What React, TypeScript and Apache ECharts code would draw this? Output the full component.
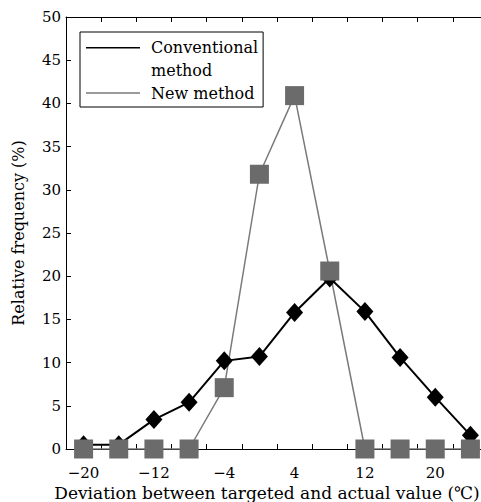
import React, { useEffect, useRef } from "react";
import * as echarts from "echarts";

const xValues = [-20, -16, -12, -8, -4, 0, 4, 8, 12, 16, 20, 24];
const conventional = [0.5, 0.5, 3.4, 5.4, 10.2, 10.7, 15.8, 19.8, 15.9, 10.6, 6.0, 1.6];
const newMethod = [0, 0, 0, 0, 7.1, 31.8, 40.9, 20.6, 0, 0, 0, 0];
const xLabelValues = [-20, -12, -4, 4, 12, 20];

const FONT = "DejaVu Serif";
const GRAY_LINE = "#7a7a7a";
const GRAY_MARK = "#6b6b6b";

const fmtX = (v: number) => {
  if (!xLabelValues.includes(v)) return "";
  return v < 0 ? "\u2212" + Math.abs(v) : String(v);
};

export default function App() {
  const ref = useRef<HTMLDivElement>(null);
  useEffect(() => {
    if (!ref.current) return;
    document.body.style.margin = "0";
    const chart = echarts.init(ref.current, undefined, { renderer: "svg" });
    const convData = xValues.map((x, i) => [x, conventional[i]]);
    const newData = xValues.map((x, i) => [x, newMethod[i]]);
    const axisBase = {
      type: "value" as const,
      min: -22,
      max: 26,
      splitLine: { show: false },
    };
    chart.setOption({
      animation: false,
      textStyle: { fontFamily: FONT },
      grid: {
        left: 66,
        top: 17,
        width: 422,
        height: 432,
        containLabel: false,
        outerBoundsMode: "none",
      },
      legend: {
        left: 80,
        top: 32,
        orient: "vertical",
        itemGap: 0,
        itemWidth: 60,
        itemHeight: 23,
        padding: [3.5, 5, 2.5, 6],
        borderColor: "#000",
        borderWidth: 1,
        itemStyle: { borderWidth: 0 },
        textStyle: { fontFamily: FONT, fontSize: 16, color: "#000", lineHeight: 23 },
        formatter: (name: string) => (name === "Conventional method" ? "Conventional\nmethod" : name),
        data: [
          {
            name: "Conventional method",
            icon: "path://M0,0H54V1.6H0Z M60,23h0.01v0.01h-0.01Z",
          },
          {
            name: "New method",
            icon: "path://M0,10.8H54V12.2H0Z M0,0h0.01v0.01h-0.01Z M60,23h0.01v0.01h-0.01Z",
          },
        ],
      },
      xAxis: [
        {
          ...axisBase,
          position: "bottom",
          interval: 2,
          axisLine: { show: true, onZero: false, lineStyle: { color: "#000", width: 1 } },
          axisTick: { show: false },
          axisLabel: {
            formatter: fmtX,
            margin: 16,
            color: "#000",
            fontFamily: FONT,
            fontSize: 15,
            showMinLabel: true,
            showMaxLabel: true,
          },
          name: "Deviation between targeted and actual value (\u2103)",
          nameLocation: "middle",
          nameGap: 33,
          nameTextStyle: { fontFamily: FONT, fontSize: 17, color: "#000", padding: [0, 20, 0, 0] },
        },
        {
          ...axisBase,
          position: "bottom",
          interval: 4,
          axisLine: { show: false, onZero: false },
          axisTick: { show: true, inside: true, length: 5, lineStyle: { color: "#000" } },
          axisLabel: { show: false },
        },
        {
          ...axisBase,
          position: "top",
          interval: 4,
          axisLine: { show: true, onZero: false, lineStyle: { color: "#000", width: 1 } },
          axisTick: { show: true, inside: true, length: 5, lineStyle: { color: "#000" } },
          axisLabel: { show: false },
        },
      ],
      yAxis: [
        {
          type: "value",
          min: 0,
          max: 50,
          interval: 5,
          position: "left",
          splitLine: { show: false },
          axisLine: { show: true, onZero: false, lineStyle: { color: "#000", width: 1 } },
          axisTick: { show: true, inside: true, length: 5, lineStyle: { color: "#000" } },
          axisLabel: { color: "#000", fontFamily: FONT, fontSize: 15, margin: 5 },
          name: "Relative frequency (%)",
          nameLocation: "middle",
          nameRotate: 90,
          nameGap: 40,
          nameTextStyle: { fontFamily: FONT, fontSize: 16, color: "#000" },
        },
      ],
      series: [
        {
          name: "New method",
          type: "line",
          xAxisIndex: 0,
          data: newData,
          symbol: "none",
          color: GRAY_LINE,
          lineStyle: { color: GRAY_LINE, width: 1.5 },
          z: 1,
        },
        {
          name: "Conventional method",
          type: "line",
          xAxisIndex: 0,
          data: convData,
          symbol: "diamond",
          symbolSize: [17, 19],
          color: "#000",
          itemStyle: { color: "#000" },
          lineStyle: { color: "#000", width: 2 },
          z: 2,
        },
        {
          name: "New method points",
          type: "scatter",
          xAxisIndex: 0,
          data: newData,
          symbol: "rect",
          symbolSize: 19,
          itemStyle: { color: GRAY_MARK, opacity: 1 },
          z: 3,
        },
      ],
    });
    return () => chart.dispose();
  }, []);
  return <div ref={ref} style={{ width: 481, height: 502 }} />;
}
